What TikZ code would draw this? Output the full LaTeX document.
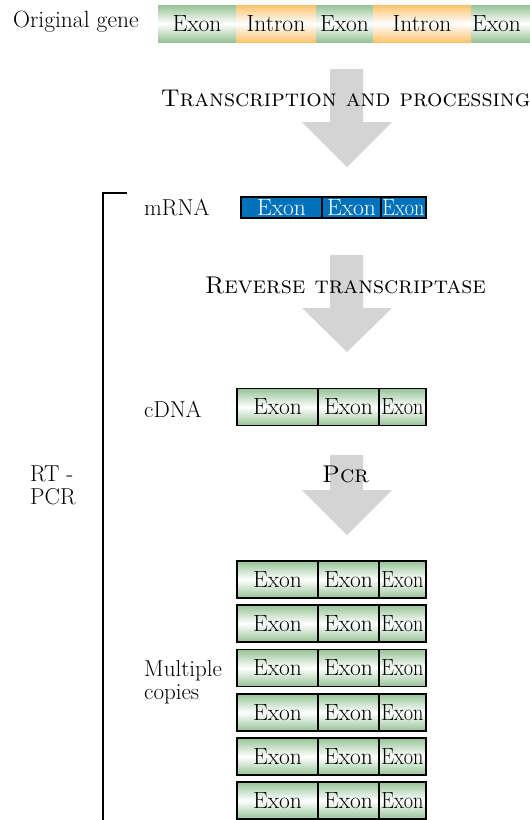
\documentclass[tikz,border=0pt]{standalone}
\usepackage{graphicx}
\usepackage{fontspec}
\definecolor{exg}{RGB}{150,195,150}
\definecolor{ing}{RGB}{250,195,110}
\definecolor{mblue}{RGB}{0,114,188}
\definecolor{arrg}{RGB}{212,212,212}
\newcommand{\bigfont}{\fontsize{23.5}{27}\selectfont}
\newcommand{\labfont}{\fontsize{23}{27}\selectfont}
\newcommand{\scfont}{\fontsize{24.2}{28}\selectfont}
\newcommand{\sqz}[1]{\scalebox{0.86}[1]{#1}}
\tikzset{
  seg/.style={inner sep=0pt, outer sep=0pt, font=\bigfont, minimum height=37},
  exonseg/.style={seg, top color=exg, bottom color=exg, middle color=white},
  intronseg/.style={seg, top color=ing, bottom color=ing, middle color=white},
  cseg/.style={exonseg, draw=black, line width=1.2pt},
  mseg/.style={seg, fill=mblue, draw=black, line width=1.2pt, text=white, minimum height=21},
  lab/.style={inner sep=0pt, font=\labfont, anchor=west, align=left},
  steplab/.style={inner sep=0pt, font=\scfont},
  bigarrow/.style={fill=arrg, draw=none},
}
\begin{document}
\begin{tikzpicture}[x=1pt,y=-1pt]
\useasboundingbox (0,0) rectangle (530,820);
% block arrows
\fill[bigarrow] (330,69) -- (363,69) -- (363,122) -- (392,122) -- (347,167) -- (302,122) -- (330,122) -- cycle;
\fill[bigarrow] (330,255) -- (363,255) -- (363,308) -- (392,308) -- (347,352) -- (302,308) -- (330,308) -- cycle;
\fill[bigarrow] (330,455) -- (363,455) -- (363,490) -- (392,490) -- (347,535) -- (302,490) -- (330,490) -- cycle;
% original gene
\node[lab, font=\bigfont] (og) at (13,22) {Original gene};
\node[exonseg, minimum width=78] (g1) at (197,23.5) {Exon};
\node[intronseg, minimum width=80] (g2) at (276,23.5) {Intron};
\node[exonseg, minimum width=57] (g3) at (344.5,23.5) {Exon};
\node[intronseg, minimum width=98] (g4) at (422,23.5) {Intron};
\node[exonseg, minimum width=75, text width=73, align=left, inner xsep=1pt] (g5) at (508.5,23.5) {Exon};
% step labels
\node[steplab] (t1) at (345.5,98) {\textsc{Transcription and processing}};
\node[steplab] (t2) at (345.5,285) {\textsc{Reverse transcriptase}};
\node[steplab] (t3) at (345.5,474) {\textsc{Pcr}};
% mRNA
\node[lab] (ml) at (144,208) {mRNA};
\node[mseg, minimum width=81] (m1) at (281.5,207.5) {Exon};
\node[mseg, minimum width=59] (m2) at (351.5,207.5) {Exon};
\node[mseg, minimum width=45] (m3) at (403.5,207.5) {\sqz{Exon}};
% cDNA
\node[lab] (cl) at (144,409) {cDNA};
\node[cseg, minimum width=81] (c1) at (277.5,407) {Exon};
\node[cseg, minimum width=61] (c2) at (348.5,407) {Exon};
\node[cseg, minimum width=47] (c3) at (402.5,407) {\sqz{Exon}};
% multiple copies
\node[lab] (mc) at (144,682.5) {Multiple\\[-4pt]copies};
\foreach \i/\y in {1/579.5,2/623.5,3/668,4/712.5,5/756.5,6/800.5}{
  \node[cseg, minimum width=81] (p\i a) at (277.5,\y) {Exon};
  \node[cseg, minimum width=61] (p\i b) at (348.5,\y) {Exon};
  \node[cseg, minimum width=47] (p\i c) at (402.5,\y) {\sqz{Exon}};
}
% bracket
\coordinate (bt) at (127,193);
\coordinate (bc) at (103,193);
\coordinate (bb) at (103,830);
\draw[line width=2.5pt] (bt) -- (bc) -- (bb);
\node[lab] (rt) at (30,485) {RT -\\[-4pt]PCR};
\end{tikzpicture}
\end{document}
